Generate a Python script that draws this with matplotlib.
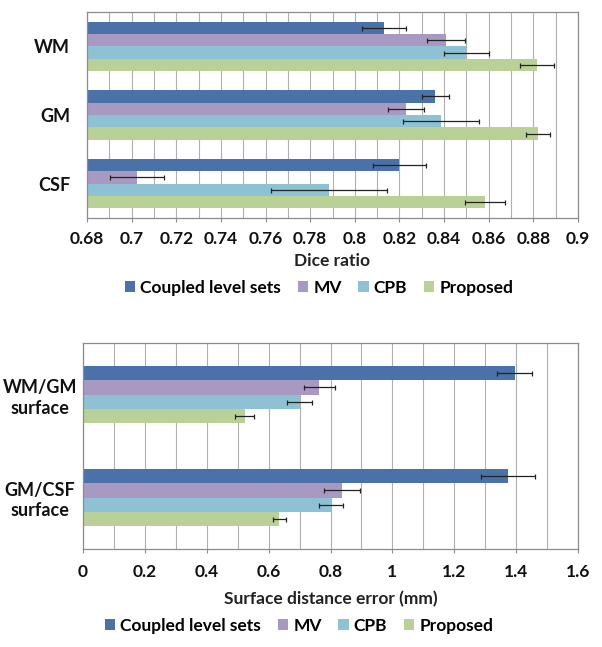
import matplotlib
matplotlib.use("Agg")
import matplotlib.pyplot as plt
from matplotlib.patches import Patch
import numpy as np

plt.rcParams['font.family'] = ['Lato', 'DejaVu Sans']

series = ["Coupled level sets", "MV", "CPB", "Proposed"]
colors = ["#4A72A8", "#A899C2", "#8FC1D4", "#B9D096"]

# Top chart: Dice ratio
dice_cats = ["WM", "GM", "CSF"]
dice_vals = {
    "Coupled level sets": [0.813, 0.836, 0.820],
    "MV": [0.841, 0.823, 0.7025],
    "CPB": [0.850, 0.8385, 0.7886],
    "Proposed": [0.8815, 0.882, 0.8583],
}
dice_err = {
    "Coupled level sets": [0.010, 0.006, 0.012],
    "MV": [0.0085, 0.008, 0.012],
    "CPB": [0.010, 0.017, 0.026],
    "Proposed": [0.0077, 0.0053, 0.009],
}
dice_ticks = [0.68, 0.7, 0.72, 0.74, 0.76, 0.78, 0.8, 0.82, 0.84, 0.86, 0.88, 0.9]
dice_ticklabels = ["0.68", "0.7", "0.72", "0.74", "0.76", "0.78", "0.8", "0.82", "0.84", "0.86", "0.88", "0.9"]

# Bottom chart: Surface distance error
sde_cats = ["WM/GM\nsurface", "GM/CSF\nsurface"]
sde_vals = {
    "Coupled level sets": [1.395, 1.374],
    "MV": [0.763, 0.837],
    "CPB": [0.700, 0.8016],
    "Proposed": [0.5226, 0.635],
}
sde_err = {
    "Coupled level sets": [0.056, 0.087],
    "MV": [0.050, 0.057],
    "CPB": [0.039, 0.040],
    "Proposed": [0.031, 0.020],
}
sde_ticks = [0, 0.2, 0.4, 0.6, 0.8, 1.0, 1.2, 1.4, 1.6]
sde_ticklabels = ["0", "0.2", "0.4", "0.6", "0.8", "1", "1.2", "1.4", "1.6"]

W, H = 602, 647
fig = plt.figure(figsize=(W / 100, H / 100), dpi=100)

def px_axes(l, t, r, b):
    return fig.add_axes([l / W, 1 - b / H, (r - l) / W, (b - t) / H])

grid_c = "#B0B0B0"
frame_c = "#8C8C8C"
txt_c = "#111111"

def draw(ax, cats, vals, errs, bh, xlim, minor_step, ticks, ticklabels,
         xlabel, ylab_pad, ylab_ha, ylab_size, xtickpad, xlabelpad):
    n = len(cats)
    y = np.arange(n)
    for i, s in enumerate(series):
        off = (i - 1.5) * bh
        ax.barh(y + off, vals[s], height=bh, color=colors[i], zorder=2)
        ax.errorbar(vals[s], y + off, xerr=errs[s], fmt='none', ecolor='#222222',
                    elinewidth=0.9, capsize=1.8, capthick=0.9, zorder=3)
    ax.set_xlim(*xlim)
    ax.set_ylim(n - 0.5, -0.5)
    ax.set_xticks(ticks)
    ax.set_xticklabels(ticklabels, fontsize=12.5, fontweight='bold', color=txt_c)
    ax.set_xticks(np.arange(xlim[0], xlim[1] + minor_step / 2, minor_step), minor=True)
    ax.grid(True, axis='x', which='both', color=grid_c, lw=0.8, zorder=0)
    ax.set_axisbelow(True)
    ax.set_yticks(y)
    ax.set_yticklabels(cats, fontsize=ylab_size, fontweight='bold', color=txt_c,
                       ha=ylab_ha, multialignment='center', linespacing=1.25)
    ax.tick_params(axis='y', length=0, pad=ylab_pad)
    ax.tick_params(axis='x', which='major', length=3, color=frame_c, pad=xtickpad)
    ax.tick_params(axis='x', which='minor', length=0)
    for sp in ax.spines.values():
        sp.set_color(frame_c)
        sp.set_linewidth(0.9)
    ax.set_xlabel(xlabel, fontsize=12.5, fontweight='bold', color='#222222',
                  labelpad=xlabelpad)

ax1 = px_axes(87, 12, 578, 218)
draw(ax1, dice_cats, dice_vals, dice_err, 0.18, (0.68, 0.9), 0.01,
     dice_ticks, dice_ticklabels, "Dice ratio", 12, 'right', 13, 6, 5)

ax2 = px_axes(83, 343, 578, 549)
draw(ax2, sde_cats, sde_vals, sde_err, 0.1375, (0, 1.6), 0.1,
     sde_ticks, sde_ticklabels, "Surface distance error (mm)", 31, 'center', 13, 8, 8)

handles = [Patch(facecolor=c, edgecolor='none') for c in colors]
for yc, xc in [(288, 319), (626, 299)]:
    fig.legend(handles, series, loc='center', bbox_to_anchor=(xc / W, 1 - yc / H),
               ncol=4, frameon=False, handlelength=0.6, handleheight=0.6,
               handletextpad=0.3, columnspacing=0.95,
               prop={'size': 12.5, 'weight': 'bold'})

fig.savefig("out.png", dpi=100, facecolor='white')
